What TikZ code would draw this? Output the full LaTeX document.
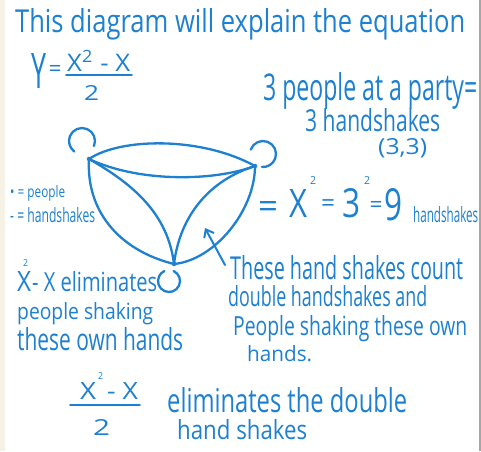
\documentclass[tikz,border=0pt]{standalone}
\usepackage{fontspec}
\setmainfont{Open Sans}
\usepackage{graphicx}
\usetikzlibrary{arrows.meta}
\definecolor{ink}{RGB}{30,128,208}
\definecolor{paper}{RGB}{246,243,230}
\newcommand\hw[3]{\resizebox{#1pt}{#2pt}{#3}}
\begin{document}
\begin{tikzpicture}[x=1pt,y=-1pt,
  txt/.style={text=ink, inner sep=0pt, anchor=base west},
  eqs/.style={text=ink, inner sep=0pt, anchor=center},
  dot/.style={circle, fill=ink, inner sep=0pt, minimum size=4.5pt},
  pen/.style={draw=ink, line width=2.3pt, line cap=round}]
\useasboundingbox (0,0) rectangle (481,451);
\fill[white] (0,0) rectangle (481,451);
\fill[paper] (0,0) rectangle (5,451);
\fill[gray!70] (479,0) rectangle (481,451);

% heading
\node[txt] (t1) at (15,32) {\hw{450}{24}{This diagram will explain the equation}};
\node[txt] (tY) at (31,88) {\hw{15}{35}{Y}};
\node[eqs] (tYe) at (55,71) {\resizebox{13pt}{!}{=}};
\node[txt] (tnum) at (67,71) {\hw{63}{21}{X\textsuperscript{2} - X}};
\draw[pen, line width=1.6pt] (66,75) -- (132,75);
\node[txt] (tden) at (84,100) {\hw{15}{15}{2}};

% party
\node[txt] (p1) at (263,100) {\hw{214}{28}{3 people at a party=}};
\node[txt] (p2) at (305,131) {\hw{135}{23}{3 handshakes}};
\node[txt] (p3) at (378,154) {\hw{49}{16}{(3,3)}};

% legend
\node[txt] (l1) at (10,197) {\hw{55}{12}{• = people}};
\node[txt] (l2) at (10,222) {\hw{85}{15}{- = handshakes}};

% equation right
\node[eqs] (e1) at (268,210) {\resizebox{20pt}{!}{=}};
\node[txt] (eX) at (289,217) {\hw{18}{28}{X}};
\node[txt] (eX2) at (310,184) {\hw{6}{8}{2}};
\node[eqs] (e2) at (328,206) {\resizebox{14pt}{!}{=}};
\node[txt] (e3) at (342,217) {\hw{18}{29}{3}};
\node[txt] (e32) at (364,184) {\hw{6}{8}{2}};
\node[eqs] (e3e) at (376,207) {\resizebox{13pt}{!}{=}};
\node[txt] (e9) at (384,220) {\hw{18}{32}{9}};
\node[txt] (ehs) at (413,222) {\hw{65}{16}{handshakes}};

% left explanation
\node[txt] (xX) at (17,291) {\hw{14}{20}{X}};
\node[txt] (xX2) at (23,266) {\hw{5}{7}{2}};
\node[txt] (x1) at (32,291) {\hw{125}{20}{- X eliminates}};
\node[txt] (x2) at (17,319) {\hw{136}{17}{people shaking}};
\node[txt] (x3) at (17,350) {\hw{166}{23}{these own hands}};

% right explanation
\node[txt] (r1) at (230,279) {\hw{233}{24}{These hand shakes count}};
\node[txt] (r2) at (228,306) {\hw{199}{21}{double handshakes and}};
\node[txt] (r3) at (233,335) {\hw{234}{20}{People shaking these own}};
\node[txt] (r4) at (247,361) {\hw{65}{16}{hands.}};

% bottom
\node[txt] (bX) at (80,399) {\hw{16}{17}{X}};
\node[txt] (bX2) at (98,379) {\hw{5}{7}{2}};
\node[txt] (bX3) at (107,399) {\hw{31}{17}{- X}};
\draw[pen, line width=1.6pt] (70,405) -- (140,405);
\node[txt] (b2) at (93,435) {\hw{17}{16}{2}};
\node[txt] (b3) at (167,412) {\hw{240}{25}{eliminates the double}};
\node[txt] (b4) at (177,439) {\hw{130}{20}{hand shakes}};

% graph
\node[dot] (A) at (89,159) {};
\node[dot] (B) at (255,166) {};
\node[dot] (C) at (174,264) {};

\draw[pen] (A.center) .. controls (120,138) and (200,136) .. (B.center);
\draw[pen] (A.center) .. controls (140,183) and (215,181) .. (B.center);
\draw[pen] (A.center) .. controls (86,210) and (118,250) .. (C.center);
\draw[pen] (A.center) .. controls (135,185) and (168,215) .. (C.center);
\draw[pen] (B.center) .. controls (255,210) and (215,260) .. (C.center);
\draw[pen] (B.center) .. controls (210,180) and (180,215) .. (C.center);

% loops
\draw[pen] ([shift={(-7,-18)}]A.center) ++(23:13) arc[start angle=23, end angle=-234, radius=13];
\draw[pen] ([shift={(8,-12)}]B.center) ++(-160:13) arc[start angle=-160, end angle=95, radius=13];
\draw[pen] ([shift={(-5,17)}]C.center) ++(-65:11) arc[start angle=-65, end angle=245, radius=11];

% arrow
\coordinate (arT) at (225,265);
\coordinate (arH) at (205,228);
\draw[pen, line width=2pt, -{Straight Barb[length=7pt,width=11pt]}] (arT) -- (arH);
\end{tikzpicture}
\end{document}
